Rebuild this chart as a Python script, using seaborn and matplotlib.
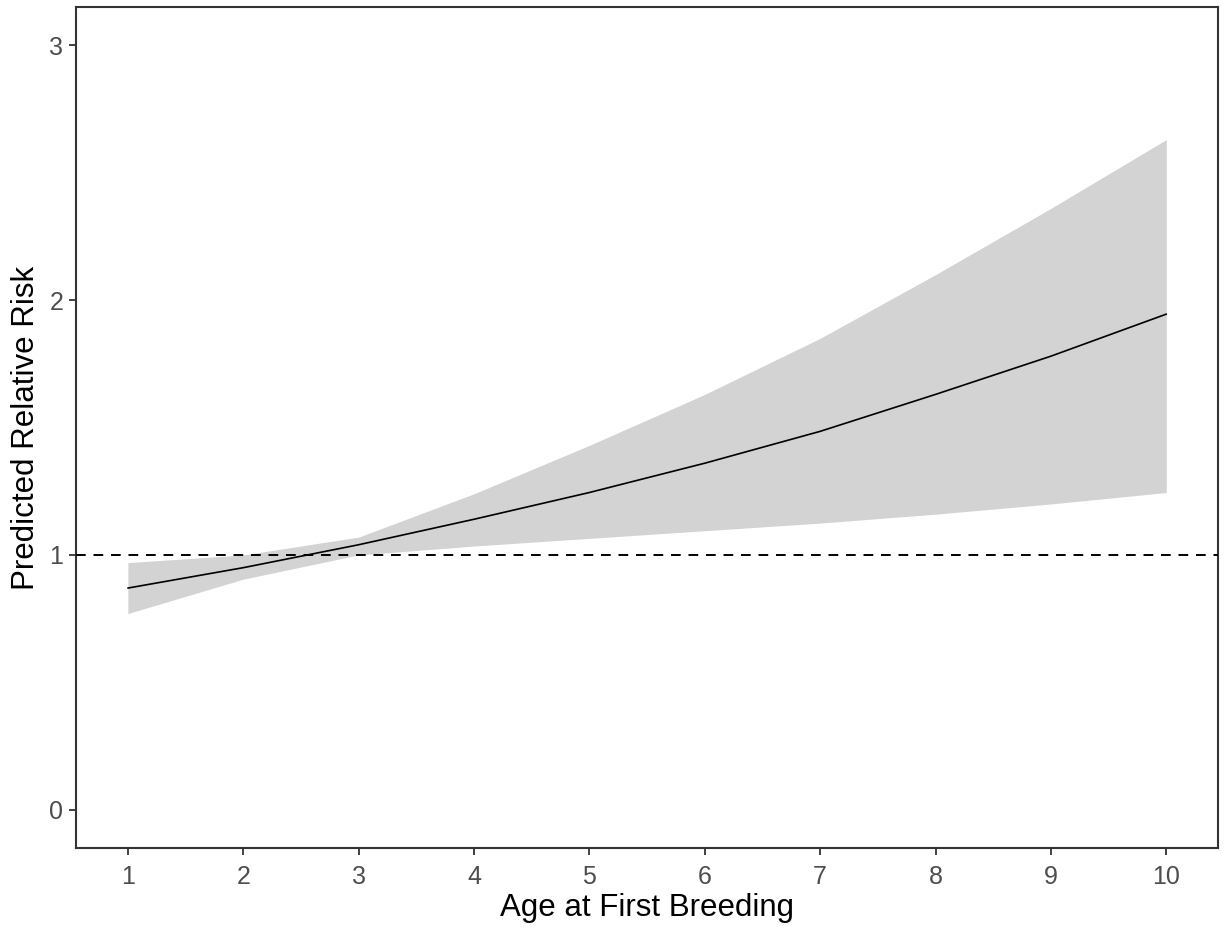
import numpy as np
import pandas as pd
import matplotlib
matplotlib.use('Agg')
import matplotlib.pyplot as plt
import seaborn as sns

# values
age = [1, 2, 3, 4, 5, 6, 7, 8, 9, 10]
rr_fit = [0.87, 0.95, 1.04, 1.14, 1.245, 1.36, 1.485, 1.63, 1.78, 1.945]
rr_upper = [0.97, 1.00, 1.07, 1.24, 1.43, 1.63, 1.85, 2.10, 2.36, 2.63]
rr_lower = [0.77, 0.905, 1.00, 1.035, 1.065, 1.095, 1.125, 1.16, 1.20, 1.245]
y_ticks = [0, 1, 2, 3]

df = pd.DataFrame({'age': age, 'fit': rr_fit, 'lo': rr_lower, 'hi': rr_upper})

sns.set_theme(style='ticks')
plt.rcParams['font.family'] = ['Liberation Sans', 'DejaVu Sans']

fig = plt.figure(figsize=(12.25, 9.36), dpi=100)
ax = fig.add_axes([0.062, 0.094, 0.9325, 0.8985])

ax.fill_between(df['age'], df['lo'], df['hi'], color='#D3D3D3', lw=0, zorder=1)
sns.lineplot(data=df, x='age', y='fit', color='black', lw=1.2, ax=ax, zorder=3)
ax.axhline(1, color='black', ls=(0, (5, 4)), lw=1.4, zorder=4)

ax.set_xlim(0.55, 10.45)
ax.set_ylim(-0.15, 3.15)
ax.set_xticks(age)
ax.set_yticks(y_ticks)
ax.tick_params(colors='#333333', labelcolor='#4D4D4D', labelsize=18, length=5, width=1.3, pad=4)
ax.tick_params(axis='x', pad=7)
for s in ax.spines.values():
    s.set_color('#333333')
    s.set_linewidth(1.5)

ax.set_xlabel('Age at First Breeding', fontsize=22.5, color='black', labelpad=3)
ax.set_ylabel('Predicted Relative Risk', fontsize=22.5, color='black', labelpad=6)

fig.savefig('out.png', dpi=100)
